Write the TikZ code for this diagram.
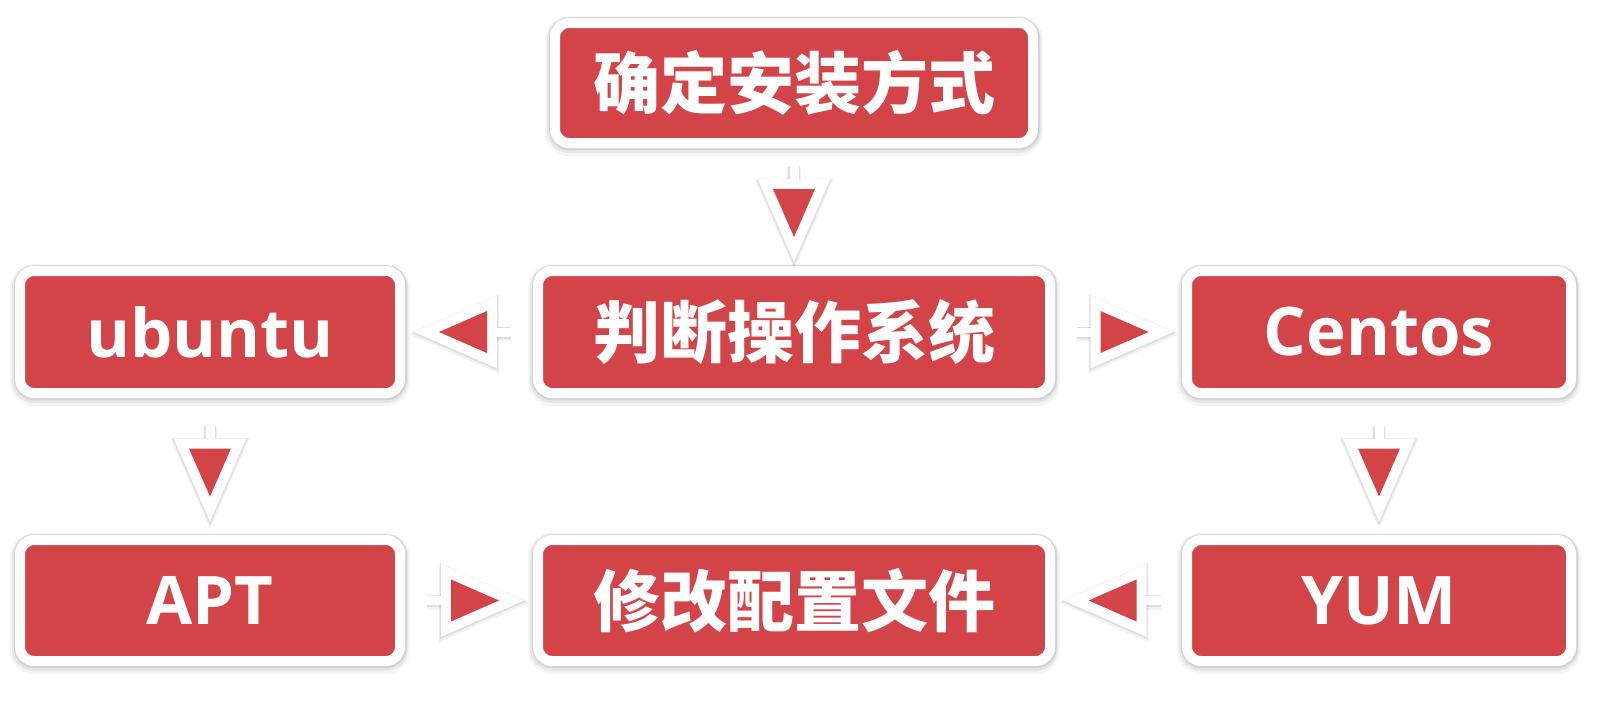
\documentclass[tikz,border=0pt]{standalone}
\usepackage{fontspec}
\setmainfont{Open Sans}
\newfontfamily\cjk{Noto Sans CJK SC}
\usetikzlibrary{calc}
\definecolor{boxred}{RGB}{211,68,73}
\tikzset{
  box/.style={fill=boxred, draw=white, line width=5pt, rounded corners=7pt,
    text=white, font=\bfseries\fontsize{33.5}{36}\selectfont, inner sep=0pt,
    minimum height=61pt,
    preaction={draw=black, draw opacity=0.04, line width=10pt, transform canvas={yshift=-1.6pt}},
    preaction={draw=black, draw opacity=0.06, line width=8pt, transform canvas={yshift=-1.0pt}},
    preaction={draw=black, draw opacity=0.08, line width=6.4pt, transform canvas={shift={(0.2pt,-0.4pt)}}}},
  arrshadowA/.style={black, opacity=0.05, line join=miter, miter limit=10,
    transform canvas={yshift=-1.2pt}},
  arrshadowB/.style={black, opacity=0.08, line join=miter, miter limit=10,
    transform canvas={yshift=-0.4pt}},
  arrwhite/.style={white, line width=10pt, line join=miter, miter limit=10},
  arrstub/.style={white, line width=4.5pt},
}
\newcommand\flowarr[2]{%
  \coordinate (fa-m) at ($(#1)!0.5!(#2)$);
  \coordinate (fa-c) at ($(fa-m)!3pt!(#2)$);
  \coordinate (fa-t) at ($(fa-c)!12pt!(#2)$);
  \coordinate (fa-b) at ($(fa-c)!-12pt!(#2)$);
  \coordinate (fa-b1) at ($(fa-b)!10.5pt!90:(fa-t)$);
  \coordinate (fa-b2) at ($(fa-b)!10.5pt!-90:(fa-t)$);
  \coordinate (fa-s) at ($(fa-c)!-24pt!(#2)$);
  \draw[arrshadowA, line width=7pt] (fa-b) -- (fa-s);
  \filldraw[arrshadowA, line width=12pt] (fa-t) -- (fa-b1) -- (fa-b2) -- cycle;
  \draw[arrshadowB, line width=6pt] (fa-b) -- (fa-s);
  \filldraw[arrshadowB, line width=11.2pt] (fa-t) -- (fa-b1) -- (fa-b2) -- cycle;
  \draw[arrstub] (fa-b) -- (fa-s);
  \filldraw[arrwhite] (fa-t) -- (fa-b1) -- (fa-b2) -- cycle;
  \fill[boxred] (fa-t) -- (fa-b1) -- (fa-b2) -- cycle;
}
\begin{document}
\begin{tikzpicture}[x=0.5pt, y=-0.5pt]
\fill[white] (0,0) rectangle (1618,712);
\useasboundingbox (0,0) rectangle (1618,712);

\node[box, minimum width=239pt, minimum height=60pt] (top) at (794,83) {\cjk 确定安装方式};
\node[box, minimum width=256pt] (judge) at (794,332) {\cjk 判断操作系统};
\node[box, minimum width=190pt] (ubuntu) at (210,332) {ubuntu};
\node[box, minimum width=192pt] (centos) at (1379,332) {Centos};
\node[box, minimum width=190pt, minimum height=60.5pt] (apt) at (210,600.5) {APT};
\node[box, minimum width=256pt, minimum height=60.5pt] (modify) at (794,600.5) {\cjk 修改配置文件};
\node[box, minimum width=192pt, minimum height=60.5pt] (yum) at (1379,600.5) {YUM};

\flowarr{top.south}{judge.north}
\flowarr{judge.west}{ubuntu.east}
\flowarr{judge.east}{centos.west}
\flowarr{ubuntu.south}{apt.north}
\flowarr{centos.south}{yum.north}
\flowarr{apt.east}{modify.west}
\flowarr{yum.west}{modify.east}
\end{tikzpicture}
\end{document}
